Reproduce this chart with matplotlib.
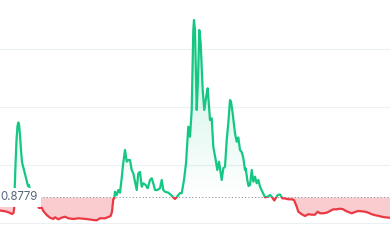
import numpy as np
import matplotlib
matplotlib.use("Agg")
import matplotlib.pyplot as plt
from matplotlib.patches import Rectangle

# ---- data (time index, price) ----
t = [0, 3, 6, 9, 12, 13.5, 14.3, 14.7, 15.5, 16.5, 17.5, 18.3, 19, 20, 21, 22, 23.5, 25, 26.5, 28,
     29, 30, 33, 36, 39, 41.7, 43.3, 46.7, 50, 53.3, 55, 58.3, 61.7, 65, 68.3, 73.3, 78.3, 83.3, 88.3, 93.3,
     96.7, 100, 105, 108.3, 110.7, 112, 112.7, 113.3, 114.3, 115, 116.7, 118.3, 120, 121.7, 123, 125, 126.7, 128.3, 130, 131.7,
     133.3, 135, 136.7, 138.3, 140, 141.7, 143.3, 145.7, 147.7, 150, 151.7, 153.3, 155, 157.3, 160, 161.7, 163.3, 165, 168.3, 171,
     173.3, 175, 177.7, 180, 181.7, 184, 186, 187.3, 188.3, 190, 191.7, 193.3, 194, 195, 196.7, 198, 199.3, 200.7, 202.7, 204.3,
     206.7, 207.7, 210, 211.7, 213.3, 215.7, 217.3, 219, 221.7, 223.3, 225, 226.7, 228.3, 230, 231, 232.5, 235, 236.7, 238.3, 240,
     241.7, 243.3, 245, 245.7, 247.3, 248.5, 250, 251.7, 253.3, 255, 256.7, 258.3, 260, 262.3, 265, 267.7, 270, 271.7, 274.3, 275.7,
     277.7, 280, 282.3, 285, 288.3, 291.7, 294, 296.7, 298.3, 301.7, 305, 308.3, 311.7, 315, 317.7, 320, 323.3, 326.7, 330, 333.3,
     336.7, 340, 343.3, 345, 348.3, 351.7, 355, 358.3, 361.7, 365, 368.3, 371.7, 375, 378.3, 381.7, 385, 390]
price = [0.8331, 0.8314, 0.8297, 0.8262, 0.8210, 0.8245, 0.8452, 0.9107, 0.9900, 1.0762, 1.1245, 1.1366, 1.1314, 1.0934, 1.0417, 1.0003, 0.9797, 0.9590, 0.9383, 0.9176,
         0.9210, 0.9038, 0.8866, 0.8624, 0.8417, 0.8428, 0.8314, 0.8176, 0.8083, 0.8038, 0.8097, 0.8028, 0.8083, 0.8117, 0.8062, 0.8038, 0.8062, 0.8048, 0.8028, 0.8003,
         0.7993, 0.8062, 0.8062, 0.8107, 0.8141, 0.8290, 0.8521, 0.8728, 0.8752, 0.8979, 0.8866, 0.9038, 0.8945, 0.9452, 0.9900, 1.0417, 1.0014, 1.0072, 1.0072, 0.9728,
         0.9614, 0.9324, 0.9038, 0.9614, 0.9659, 0.9152, 0.9269, 0.9210, 0.9097, 0.9383, 0.9441, 0.9269, 0.9038, 0.9038, 0.9097, 0.9383, 0.9038, 0.8979, 0.8945, 0.8866,
         0.8779, 0.8728, 0.8831, 0.8934, 0.8924, 0.9383, 0.9959, 1.0648, 1.1221, 1.0876, 1.1797, 1.4555, 1.4900, 1.4555, 1.1797, 1.2831, 1.4555, 1.4097, 1.2486, 1.1797,
         1.2372, 1.2545, 1.1452, 1.1510, 1.0531, 1.0072, 0.9728, 1.0014, 0.9383, 0.9786, 0.9841, 1.0762, 1.1348, 1.2141, 1.2083, 1.1728, 1.0993, 1.0703, 1.0848, 1.0417,
         1.0348, 1.0141, 0.9728, 0.9786, 0.9383, 0.9176, 0.9210, 0.9728, 0.9324, 0.9497, 0.9269, 0.9383, 0.9152, 0.8979, 0.8786, 0.8807, 0.8866, 0.8807, 0.8676, 0.8752,
         0.8866, 0.8883, 0.8752, 0.8745, 0.8717, 0.8717, 0.8693, 0.8462, 0.8290, 0.8203, 0.8141, 0.8203, 0.8186, 0.8186, 0.8290, 0.8234, 0.8234, 0.8255, 0.8314, 0.8372,
         0.8372, 0.8393, 0.8372, 0.8331, 0.8279, 0.8234, 0.8279, 0.8314, 0.8303, 0.8290, 0.8255, 0.8203, 0.8169, 0.8148, 0.8117, 0.8097, 0.8079]
baseline = 0.8779
baseline_label = "0.8779"
grid_values = [0.79, 0.99, 1.19, 1.39]

GREEN = "#16c784"
RED = "#ea3943"

x = np.array(t, dtype=float)
y = np.array(price, dtype=float)

fig = plt.figure(figsize=(3.9, 2.41), dpi=100)
ax = fig.add_axes([0, 0, 1, 1])
ax.set_xlim(0, 390)
ax.set_ylim(0.7279, 1.5589)
ax.axis("off")

for g in grid_values:
    ax.axhline(g, color="#eceff3", lw=0.8, zorder=0)

# green gradient fill above baseline
poly_up = ax.fill_between(x, np.maximum(y, baseline), baseline, color="none", lw=0)
top = y.max()
grad = np.linspace(0, 1, 256).reshape(-1, 1)
rgba = np.zeros((256, 1, 4))
rgba[..., 0], rgba[..., 1], rgba[..., 2] = 22/255, 199/255, 132/255
rgba[..., 3] = grad * 0.26
im = ax.imshow(rgba, extent=[0, 390, baseline, top], origin="lower",
               aspect="auto", zorder=1, interpolation="bilinear")
im.set_clip_path(poly_up.get_paths()[0], transform=ax.transData)

# red fill below baseline
ax.fill_between(x, np.minimum(y, baseline), baseline, color=RED, alpha=0.25, lw=0, zorder=1)

# baseline dotted
ax.axhline(baseline, color="#8a93a3", lw=0.7, ls=(0, (1.2, 2.2)), zorder=2)

# line coloured by side of baseline
l_up, = ax.plot(x, y, color=GREEN, lw=1.6, zorder=3, solid_joinstyle="round")
l_dn, = ax.plot(x, y, color=RED, lw=1.6, zorder=3, solid_joinstyle="round")
r_up = Rectangle((0, baseline), 390, 5, transform=ax.transData)
r_dn = Rectangle((0, baseline - 5), 390, 5, transform=ax.transData)
l_up.set_clip_path(r_up)
l_dn.set_clip_path(r_dn)

ax.text(0.8, baseline, baseline_label, ha="left", va="center", fontsize=8.3,
        family=["Inter", "DejaVu Sans"], color="#58667e", zorder=10,
        bbox=dict(boxstyle="square,pad=0.27", fc="white", ec="none"))

fig.savefig("out.png", dpi=100)
